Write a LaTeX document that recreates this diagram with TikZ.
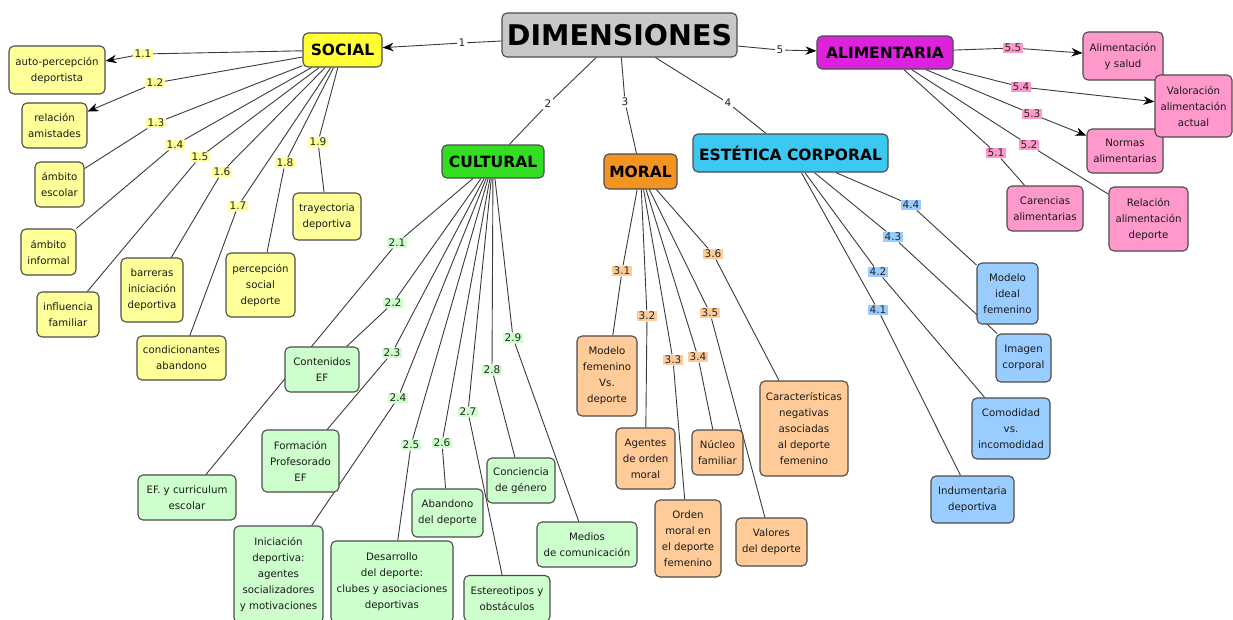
\documentclass[tikz,border=0pt]{standalone}
\usepackage{fontspec}
\setmainfont{DejaVu Sans}
\usetikzlibrary{arrows.meta,backgrounds}

\definecolor{dimc}{HTML}{C8C8C8}
\definecolor{socc}{HTML}{FFFF33}
\definecolor{culc}{HTML}{33DD22}
\definecolor{morc}{HTML}{F29322}
\definecolor{estc}{HTML}{3CC8F0}
\definecolor{alic}{HTML}{DD22DD}
\definecolor{socl}{HTML}{FFFF99}
\definecolor{cull}{HTML}{CCFFCC}
\definecolor{morl}{HTML}{FFCC99}
\definecolor{estl}{HTML}{99CCFF}
\definecolor{alil}{HTML}{FF99CC}
\definecolor{linec}{HTML}{3A3A3A}

\tikzset{wh/.style 2 args={minimum width=#1,minimum height=#2}}

\begin{document}
\begin{tikzpicture}[x=1pt,y=-1pt,>={Stealth[length=11pt,width=8.5pt,color=black]}]
\tikzstyle{box}=[draw=black!70, line width=1.1pt, rounded corners=5pt, align=center, inner sep=2pt, text=black!90, font=\fontsize{10.2}{16}\selectfont]
\tikzstyle{head}=[box, text=black, font=\bfseries\fontsize{15.5}{18}\selectfont]
\tikzstyle{lbl}=[inner sep=1.4pt, text=black!85, font=\fontsize{10.5}{12}\selectfont]
\tikzstyle{every edge}=[draw=linec, line width=0.9pt]

\useasboundingbox (0,0) rectangle (1233,619);

% dimensiones
\node[head,fill=dimc,wh={235}{44},inner sep=1pt,font=\bfseries\fontsize{28.5}{30}\selectfont] (dim) at (619.5,35) {DIMENSIONES};
\node[head,fill=socc,wh={79}{34}] (soc) at (342.5,50) {SOCIAL};
\node[head,fill=alic,wh={136}{33}] (ali) at (885,52.5) {ALIMENTARIA};
\node[head,fill=culc,wh={102}{33}] (cul) at (493,161.5) {CULTURAL};
\node[head,fill=morc,wh={73}{35}] (mor) at (640.5,171.5) {MORAL};
\node[head,fill=estc,wh={195}{38}] (est) at (790.5,153) {ESTÉTICA CORPORAL};

\node[lbl,fill=white] (l1) at (462,43) {1};
\node[lbl,fill=white] (l2) at (548,104) {2};
\node[lbl,fill=white] (l3) at (625,102) {3};
\node[lbl,fill=white] (l4) at (728,103) {4};
\node[lbl,fill=white] (l5) at (780,50) {5};

% social
\node[box,fill=socl,wh={96}{48}] (apd) at (57,70) {auto-percepción\\deportista};
\node[box,fill=socl,wh={65}{45}] (ram) at (54.5,125.5) {relación\\amistades};
\node[box,fill=socl,wh={49}{45}] (aes) at (59.5,184.5) {ámbito\\escolar};
\node[box,fill=socl,wh={55}{46}] (ain) at (48.5,252) {ámbito\\informal};
\node[box,fill=socl,wh={62}{45}] (ifa) at (68,314.5) {influencia\\familiar};
\node[box,fill=socl,wh={62}{64}] (bid) at (152,290) {barreras\\iniciación\\deportiva};
\node[box,fill=socl,wh={89}{44}] (cab) at (181.5,358) {condicionantes\\abandono};
\node[box,fill=socl,wh={69}{64}] (psd) at (260.5,285) {percepción\\social\\deporte};
\node[box,fill=socl,wh={68}{47}] (tde) at (327,216.5) {trayectoria\\deportiva};

\node[lbl,fill=socl] (l11) at (143,54) {1.1};
\node[lbl,fill=socl] (l12) at (155,83) {1.2};
\node[lbl,fill=socl] (l13) at (156,123) {1.3};
\node[lbl,fill=socl] (l14) at (175,145) {1.4};
\node[lbl,fill=socl] (l15) at (200,157) {1.5};
\node[lbl,fill=socl] (l16) at (222,172) {1.6};
\node[lbl,fill=socl] (l17) at (238,206) {1.7};
\node[lbl,fill=socl] (l18) at (285,163) {1.8};
\node[lbl,fill=socl] (l19) at (318,142) {1.9};

% cultural
\node[box,fill=cull,wh={74}{45}] (cef) at (322,369.5) {Contenidos\\EF};
\node[box,fill=cull,wh={98}{45}] (ecu) at (187,497.5) {EF. y curriculum\\escolar};
\node[box,fill=cull,wh={77}{62}] (fpr) at (300.5,461) {Formación\\Profesorado\\EF};
\node[box,fill=cull,wh={89}{97}] (ini) at (278.5,574.5) {Iniciación\\deportiva:\\agentes\\socializadores\\y motivaciones};
\node[box,fill=cull,wh={122}{82}] (des) at (392,582) {Desarrollo\\del deporte:\\clubes y asociaciones\\deportivas};
\node[box,fill=cull,wh={71}{48}] (abd) at (447.5,513) {Abandono\\del deporte};
\node[box,fill=cull,wh={86}{46}] (eob) at (507,598.5) {Estereotipos y\\obstáculos};
\node[box,fill=cull,wh={68}{45}] (cge) at (521,480.5) {Conciencia\\de género};
\node[box,fill=cull,wh={100}{45}] (mco) at (587,544.5) {Medios\\de comunicación};

\node[lbl,fill=cull] (l21) at (397,243) {2.1};
\node[lbl,fill=cull] (l22) at (393,303) {2.2};
\node[lbl,fill=cull] (l23) at (392,353) {2.3};
\node[lbl,fill=cull] (l24) at (398,398) {2.4};
\node[lbl,fill=cull] (l25) at (411,445) {2.5};
\node[lbl,fill=cull] (l26) at (442,443) {2.6};
\node[lbl,fill=cull] (l27) at (468,412) {2.7};
\node[lbl,fill=cull] (l28) at (492,370) {2.8};
\node[lbl,fill=cull] (l29) at (513,338) {2.9};

% moral
\node[box,fill=morl,wh={60}{80}] (mfd) at (607,376) {Modelo\\femenino\\Vs.\\deporte};
\node[box,fill=morl,wh={59}{61}] (aom) at (645.5,458.5) {Agentes\\de orden\\moral};
\node[box,fill=morl,wh={66}{77}] (omd) at (688,538.5) {Orden\\moral en\\el deporte\\femenino};
\node[box,fill=morl,wh={51}{45}] (nfa) at (717.5,452.5) {Núcleo\\familiar};
\node[box,fill=morl,wh={71}{48}] (vde) at (771.5,542) {Valores\\del deporte};
\node[box,fill=morl,wh={88}{95}] (cna) at (804,428.5) {Características\\negativas\\asociadas\\al deporte\\femenino};

\node[lbl,fill=morl] (l31) at (622,271) {3.1};
\node[lbl,fill=morl] (l32) at (647,316) {3.2};
\node[lbl,fill=morl] (l33) at (673,360) {3.3};
\node[lbl,fill=morl] (l34) at (698,357) {3.4};
\node[lbl,fill=morl] (l35) at (710,313) {3.5};
\node[lbl,fill=morl] (l36) at (713,254) {3.6};

% estetica corporal
\node[box,fill=estl,wh={61}{61}] (mif) at (1007.5,293.5) {Modelo\\ideal\\femenino};
\node[box,fill=estl,wh={55}{48}] (ico) at (1023.5,358) {Imagen\\corporal};
\node[box,fill=estl,wh={78}{61}] (cvi) at (1011,428.5) {Comodidad\\vs.\\incomodidad};
\node[box,fill=estl,wh={83}{47}] (ide) at (972.5,499.5) {Indumentaria\\deportiva};

\node[lbl,fill=estl] (l41) at (878,310) {4.1};
\node[lbl,fill=estl] (l42) at (878,272) {4.2};
\node[lbl,fill=estl] (l43) at (893,237) {4.3};
\node[lbl,fill=estl] (l44) at (911,205) {4.4};

% alimentaria
\node[box,fill=alil,wh={80}{48}] (asa) at (1123,56) {Alimentación\\y salud};
\node[box,fill=alil,wh={76}{44}] (nal) at (1125,151) {Normas\\alimentarias};
\node[box,fill=alil,wh={77}{62}] (vaa) at (1193.5,106) {Valoración\\alimentación\\actual};
\node[box,fill=alil,wh={76}{45}] (cal) at (1045,208.5) {Carencias\\alimentarias};
\node[box,fill=alil,wh={79}{64}] (rad) at (1148.5,219) {Relación\\alimentación\\deporte};

\node[lbl,fill=alil] (l51) at (996,153) {5.1};
\node[lbl,fill=alil] (l52) at (1029,145) {5.2};
\node[lbl,fill=alil] (l53) at (1032,114) {5.3};
\node[lbl,fill=alil] (l54) at (1021,87) {5.4};
\node[lbl,fill=alil] (l55) at (1013,48) {5.5};

\begin{scope}[on background layer]
\path (dim) edge (l1) (l1) edge[->] (soc)
      (dim) edge (l2) (l2) edge (cul)
      (dim) edge (l3) (l3) edge (mor)
      (dim) edge (l4) (l4) edge (est)
      (dim) edge (l5) (l5) edge[->] (ali);
\path (soc) edge (l11) (l11) edge[->] (apd)
      (soc) edge (l12) (l12) edge[->] (ram)
      (soc) edge (l13) (l13) edge (aes)
      (soc) edge (l14) (l14) edge (ain)
      (soc) edge (l15) (l15) edge (ifa)
      (soc) edge (l16) (l16) edge (bid)
      (soc) edge (l17) (l17) edge (cab)
      (soc) edge (l18) (l18) edge (psd)
      (soc) edge (l19) (l19) edge (tde);
\path (cul) edge (l21) (l21) edge (ecu)
      (cul) edge (l22) (l22) edge (cef)
      (cul) edge (l23) (l23) edge (fpr)
      (cul) edge (l24) (l24) edge (ini)
      (cul) edge (l25) (l25) edge (des)
      (cul) edge (l26) (l26) edge (abd)
      (cul) edge (l27) (l27) edge (eob)
      (cul) edge (l28) (l28) edge (cge)
      (cul) edge (l29) (l29) edge (mco);
\path (mor) edge (l31) (l31) edge (mfd)
      (mor) edge (l32) (l32) edge (aom)
      (mor) edge (l33) (l33) edge (omd)
      (mor) edge (l34) (l34) edge (nfa)
      (mor) edge (l35) (l35) edge (vde)
      (mor) edge (l36) (l36) edge (cna);
\path (est) edge (l41) (l41) edge (ide)
      (est) edge (l42) (l42) edge (cvi)
      (est) edge (l43) (l43) edge (ico)
      (est) edge (l44) (l44) edge (mif);
\path (ali) edge (l51) (l51) edge (cal)
      (ali) edge (l52) (l52) edge (rad)
      (ali) edge (l53) (l53) edge[->] (nal)
      (ali) edge (l54) (l54) edge[->] (vaa)
      (ali) edge (l55) (l55) edge[->] (asa);
\end{scope}
\end{tikzpicture}
\end{document}
